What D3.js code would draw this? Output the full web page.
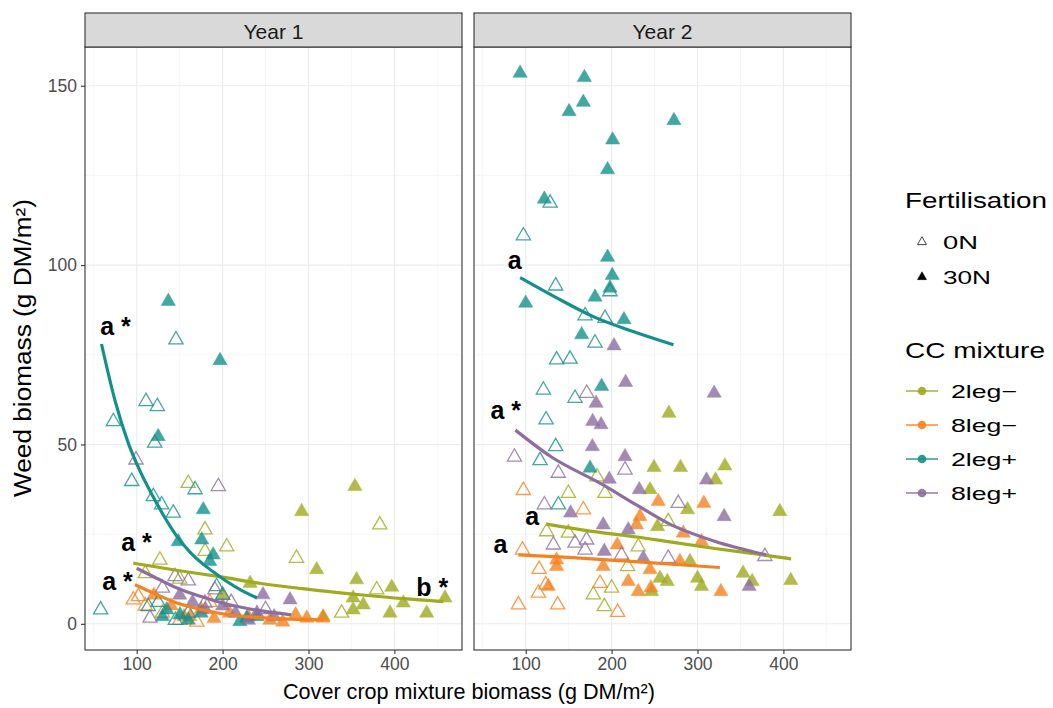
<!DOCTYPE html>
<html>
<head>
<meta charset="utf-8">
<script src="https://cdn.jsdelivr.net/npm/d3@7"></script>
<style>
  body { margin: 0; background: #fff; }
  text { font-family: "Liberation Sans", Arial, sans-serif; }
</style>
</head>
<body>
<svg id="chart" width="1053" height="708"></svg>
<script>
// ---- data ----
const years = ["Year 1", "Year 2"];
const mixtures = ["2leg\u2212", "8leg\u2212", "2leg+", "8leg+"];
const fertLevels = ["0N", "30N"];
const xTicks = [100, 200, 300, 400];
const yTicks = [0, 50, 100, 150];

// Year 1 points [cover crop biomass, weed biomass]
const y1_2legM_0N = [[110,14],[127,17.8],[150,12.5],[160,39.2],[179.5,20.2],[179.5,26.2],[204.8,21.5],[286,18.3],[338.6,3],[379.4,9.5],[383,27.6]];
const y1_2legM_30N = [[200,8],[232,11.3],[292,31.3],[309.5,15.1],[317,2],[352,3.9],[352,7.2],[354,38.3],[356,12.3],[363.8,5.3],[394.9,3],[396.9,10.2],[410.4,5.8],[437.6,3],[458.9,7.2]];
const y1_8legM_0N = [[96,6.7],[102,7.6],[110,5],[130,3],[150,1],[170,0.5],[185,6]];
const y1_8legM_30N = [[120,8],[140,5],[155,2],[162,2],[175,4],[190,1.5],[208,3],[230,2],[255,1],[270,0.5],[285,2.5],[298,1.6],[317,1.6]];
const y1_2legP_0N = [[58,3.9],[72.8,56.4],[94.2,39.7],[110.8,62],[113.5,4.8],[119.3,35.5],[121,50.4],[124,60.6],[125,6],[129,33.2],[142.6,30.9],[145,1],[145.7,79.2],[160,3],[167.9,37.4],[193,10.4],[200,8]];
const y1_2legP_30N = [[125,52.2],[130,2],[135,3.9],[136.8,89.9],[148.4,22.9],[150.4,2.5],[160,1],[175,3],[175.7,23.4],[177.5,31.8],[185,17.4],[189,19.2],[197,73.4],[220,0.6],[228,1.6],[240,2]];
const y1_8legP_0N = [[99.2,45.7],[115.5,1.6],[130,10],[144.6,13.2],[160,12],[179.5,5.8],[191,9.5],[195,38.3],[210,6],[250,4]];
const y1_8legP_30N = [[150,8],[165,6],[180,4],[200,5],[215,3],[230,1],[240,3],[247,8.1],[260,2],[278.5,6.7]];

// Year 2 points
const y2_2legM_0N = [[124.4,25.7],[149.7,25.3],[149.7,36.4],[178.7,8.1],[183,41],[191.5,4.8],[192.3,36.4],[200,10],[218.6,16],[231,21.5],[265.9,28.5]];
const y2_2legM_30N = [[244.7,37.4],[246.5,9],[249.3,43.6],[253.5,27.1],[256.3,12.7],[264.8,11.8],[266.7,58.7],[280.2,43.6],[288.4,31.8],[291.2,17.4],[300,12.7],[304.7,10.4],[321,40.1],[331.9,44],[353.1,14.1],[363.6,11.8],[395.8,31.3],[408.6,12.1]];
const y2_8legM_0N = [[91.5,5.3],[96.2,20.6],[97.3,37.2],[114.8,8.6],[115.6,15.2],[123.3,10.9],[137.2,5.3],[167.1,31.8],[186.5,11.3],[207,3.2]];
const y2_8legM_30N = [[126.4,10.4],[136,16],[136,17.8],[190.3,16],[206.6,22],[219.4,11.8],[229.1,27.6],[231,9],[233,29.9],[244.7,15.1],[245.8,10],[254.3,34.1],[279.5,17.4],[283.4,25.3],[304.7,22.9],[307.4,33.6],[327.2,9]];
const y2_2legP_0N = [[97.3,108.2],[116.7,45.5],[120.6,65.2],[123.7,56.9],[128.4,117.3],[134.9,49.4],[134.9,94.2],[136,73.6],[138,33.2],[151.6,73.8],[157.4,62.9],[169.1,85.9],[180.7,78.3],[192.3,85.2],[198.1,92.6]];
const y2_2legP_30N = [[93.5,153.5],[100,89.4],[121.7,118.4],[150.5,142.8],[165.1,80.6],[167.1,145.4],[168.3,152.3],[174.9,43.4],[180.7,91.1],[188.4,66.2],[195.3,102.2],[195.3,126.6],[198.1,93.6],[200.8,97.1],[201.2,134.9],[214.4,84.8],[272.6,140.3]];
const y2_8legP_0N = [[86.9,46.5],[121.7,33.2],[132.2,22],[138,42],[157.4,22.5],[169.1,20.6],[170.9,23.4],[171,64.3],[211.6,19.2],[215.6,42.9],[265.9,18.3],[277.6,33.6],[378.4,18.8]];
const y2_8legP_30N = [[152.3,30.9],[177.6,49.4],[177.9,56.4],[181.9,61.5],[187.7,55.5],[190.3,27.6],[191.5,20.2],[197.3,40.3],[202.8,77.5],[215.6,46.6],[216.3,67.3],[219.4,26.2],[232.2,37.4],[236.9,18.3],[310.5,40.1],[319.4,64.3],[331,29.9],[360.1,10.4]];

// fitted curves
const fit_y1_2legM = [[96,16.9],[150,14.8],[200,13],[243,11.3],[300,9.6],[360,8.1],[410,7],[457,6.2]];
const fit_y1_8legM = [[98,10.9],[120,8.5],[147,5.8],[175,4],[205,2.6],[240,1.8],[280,1.3],[317,1.1]];
const fit_y1_2legP = [[59,78],[75,62],[90,50.5],[105,42],[119,35.5],[133,29.5],[147,24.3],[162,20],[178,16.5],[192,14],[205,11.8],[222,9.3],[240,7.2]];
const fit_y1_8legP = [[100,15.5],[125,12.5],[147,10],[175,7.6],[200,5.8],[240,3.8],[280,2.5]];
const fit_y2_2legM = [[124,27.8],[180,25.7],[230,24.2],[266,22.9],[320,21],[370,19.4],[409,18.1]];
const fit_y2_8legM = [[91.5,19.2],[150,18.5],[210,17.6],[270,16.6],[326,15.7]];
const fit_y2_2legP = [[93.5,96.5],[135,91],[180,85.5],[225,81.5],[272,77.8]];
const fit_y2_8legP = [[88,54],[130,46.5],[188,39],[230,33],[266,28],[320,23],[380,19.2]];

// significance letters
const letterLabels = [
  { year: 0, x: 57.5, y: 80.6, text: "a *" },
  { year: 0, x: 82, y: 20.2, text: "a *" },
  { year: 0, x: 59.8, y: 9.5, text: "a *" },
  { year: 0, x: 425.5, y: 7.8, text: "b *" },
  { year: 1, x: 79, y: 98.9, text: "a" },
  { year: 1, x: 59, y: 57.1, text: "a *" },
  { year: 1, x: 99.5, y: 27.6, text: "a" },
  { year: 1, x: 62.5, y: 19.7, text: "a" }
];

const colors = ["#9FAA1C", "#F5821F", "#13908A", "#8D6E9F"];

const pointSets = [
  [[y1_2legM_0N, y1_2legM_30N], [y1_8legM_0N, y1_8legM_30N], [y1_2legP_0N, y1_2legP_30N], [y1_8legP_0N, y1_8legP_30N]],
  [[y2_2legM_0N, y2_2legM_30N], [y2_8legM_0N, y2_8legM_30N], [y2_2legP_0N, y2_2legP_30N], [y2_8legP_0N, y2_8legP_30N]]
];
const fitSets = [
  [fit_y1_2legM, fit_y1_8legM, fit_y1_2legP, fit_y1_8legP],
  [fit_y2_2legM, fit_y2_8legM, fit_y2_2legP, fit_y2_8legP]
];

// ---- layout ----
const svg = d3.select("#chart");
const panelLeft = [85, 474];
const panelW = 377;
const panelTop = 47, panelBottom = 650;
const stripTop = 13;

const x = d3.scaleLinear().domain([39.8, 478.7]).range([0, panelW]);
const y = d3.scaleLinear().domain([-7.3, 160.8]).range([panelBottom, panelTop]);
const color = d3.scaleOrdinal().domain(mixtures).range(colors);
const tri = d3.symbol().type(d3.symbolTriangle).size(88);

const line = d3.line().x(d => x(d[0])).y(d => y(d[1])).curve(d3.curveMonotoneX);

years.forEach((yr, i) => {
  const g = svg.append("g").attr("transform", `translate(${panelLeft[i]},0)`);

  g.append("rect").attr("x", 0).attr("y", panelTop).attr("width", panelW)
    .attr("height", panelBottom - panelTop).attr("fill", "#fff");

  // grid (minor then major)
  const minorX = [50, 150, 250, 350, 450];
  const minorY = [25, 75, 125];
  g.selectAll(".gxm").data(minorX).join("line")
    .attr("x1", d => x(d)).attr("x2", d => x(d)).attr("y1", panelTop).attr("y2", panelBottom)
    .attr("stroke", "#F0F0F0").attr("stroke-width", 0.6);
  g.selectAll(".gym").data(minorY).join("line")
    .attr("x1", 0).attr("x2", panelW).attr("y1", d => y(d)).attr("y2", d => y(d))
    .attr("stroke", "#F0F0F0").attr("stroke-width", 0.6);
  g.selectAll(".gx").data(xTicks).join("line")
    .attr("x1", d => x(d)).attr("x2", d => x(d)).attr("y1", panelTop).attr("y2", panelBottom)
    .attr("stroke", "#EBEBEB").attr("stroke-width", 1.1);
  g.selectAll(".gy").data(yTicks).join("line")
    .attr("x1", 0).attr("x2", panelW).attr("y1", d => y(d)).attr("y2", d => y(d))
    .attr("stroke", "#EBEBEB").attr("stroke-width", 1.1);

  // points
  mixtures.forEach((m, mi) => {
    fertLevels.forEach((f, fi) => {
      g.selectAll(null).data(pointSets[i][mi][fi]).join("path")
        .attr("d", tri)
        .attr("transform", d => `translate(${x(d[0])},${y(d[1])})`)
        .attr("fill", fi === 1 ? color(m) : "none")
        .attr("stroke", color(m))
        .attr("stroke-width", fi === 1 ? 0.5 : 1.3)
        .attr("opacity", 0.8);
    });
  });

  // fitted lines
  mixtures.forEach((m, mi) => {
    g.append("path").datum(fitSets[i][mi])
      .attr("d", line)
      .attr("fill", "none")
      .attr("stroke", color(m))
      .attr("stroke-width", 3.2);
  });

  // letters
  g.selectAll(null).data(letterLabels.filter(l => l.year === i)).join("text")
    .attr("x", d => x(d.x)).attr("y", d => y(d.y))
    .attr("font-family", "DejaVu Sans").attr("font-weight", "bold")
    .attr("font-size", 25).attr("fill", "#000")
    .attr("xml:space", "preserve")
    .text(d => d.text);

  // panel border
  g.append("rect").attr("x", 0).attr("y", panelTop).attr("width", panelW)
    .attr("height", panelBottom - panelTop).attr("fill", "none")
    .attr("stroke", "#333").attr("stroke-width", 1.1);

  // strip
  g.append("rect").attr("x", 0).attr("y", stripTop).attr("width", panelW)
    .attr("height", panelTop - stripTop).attr("fill", "#D9D9D9")
    .attr("stroke", "#333").attr("stroke-width", 1.1);
  g.append("text").attr("x", panelW / 2).attr("y", (stripTop + panelTop) / 2 + 1)
    .attr("text-anchor", "middle").attr("dominant-baseline", "central")
    .attr("font-size", 21).attr("fill", "#1A1A1A").text(yr);

  // x axis
  const xa = g.append("g").attr("transform", `translate(0,${panelBottom})`)
    .call(d3.axisBottom(x).tickValues(xTicks).tickSize(4).tickPadding(4).tickFormat(d3.format("d")));
  xa.select(".domain").remove();
  xa.selectAll("line").attr("stroke", "#333").attr("stroke-width", 1.1);
  xa.selectAll("text").attr("font-size", 17.5).attr("fill", "#4D4D4D")
    .attr("font-family", "Liberation Sans, Arial, sans-serif");

  if (i === 0) {
    const ya = g.append("g").call(d3.axisLeft(y).tickValues(yTicks).tickSize(4).tickPadding(4));
    ya.select(".domain").remove();
    ya.selectAll("line").attr("stroke", "#333").attr("stroke-width", 1.1);
    ya.selectAll("text").attr("font-size", 17.5).attr("fill", "#4D4D4D")
      .attr("font-family", "Liberation Sans, Arial, sans-serif");
  }
});

// axis titles
svg.append("text").attr("x", 469).attr("y", 699).attr("text-anchor", "middle")
  .attr("font-size", 21.6).attr("fill", "#000").text("Cover crop mixture biomass (g DM/m\u00B2)");
svg.append("text").attr("transform", "translate(31,348) rotate(-90)").attr("text-anchor", "middle")
  .attr("font-size", 23).attr("fill", "#000")
  .attr("textLength", 298).attr("lengthAdjust", "spacingAndGlyphs")
  .text("Weed biomass (g DM/m\u00B2)");

// legend
const lg = svg.append("g");
lg.append("text").attr("x", 905).attr("y", 208).attr("font-size", 22)
  .attr("textLength", 142).attr("lengthAdjust", "spacingAndGlyphs").text("Fertilisation");
const legendTri = d3.symbol().type(d3.symbolTriangle).size(36);
const fertLabelW = [35, 48];
fertLevels.forEach((f, fi) => {
  const cy = 242 + fi * 35;
  lg.append("path").attr("d", legendTri).attr("transform", `translate(922,${cy})`)
    .attr("fill", fi === 1 ? "#000" : "none").attr("stroke", fi === 1 ? "#000" : "#444")
    .attr("stroke-width", fi === 1 ? 0.5 : 1);
  lg.append("text").attr("x", 943).attr("y", cy).attr("dominant-baseline", "central")
    .attr("font-size", 18.5).attr("fill", "#000")
    .attr("textLength", fertLabelW[fi]).attr("lengthAdjust", "spacingAndGlyphs").text(f);
});

lg.append("text").attr("x", 905).attr("y", 358).attr("font-size", 22)
  .attr("textLength", 140).attr("lengthAdjust", "spacingAndGlyphs").text("CC mixture");
mixtures.forEach((m, mi) => {
  const cy = 391 + mi * 34;
  lg.append("line").attr("x1", 906).attr("x2", 938).attr("y1", cy).attr("y2", cy)
    .attr("stroke", color(m)).attr("stroke-width", 1.5).attr("opacity", 0.9);
  lg.append("circle").attr("cx", 922).attr("cy", cy).attr("r", 4.3)
    .attr("fill", color(m)).attr("opacity", 0.9);
  lg.append("text").attr("x", 951).attr("y", cy).attr("dominant-baseline", "central")
    .attr("font-size", 18.5).attr("fill", "#000")
    .attr("textLength", 66).attr("lengthAdjust", "spacingAndGlyphs").text(m);
});
</script>
</body>
</html>
